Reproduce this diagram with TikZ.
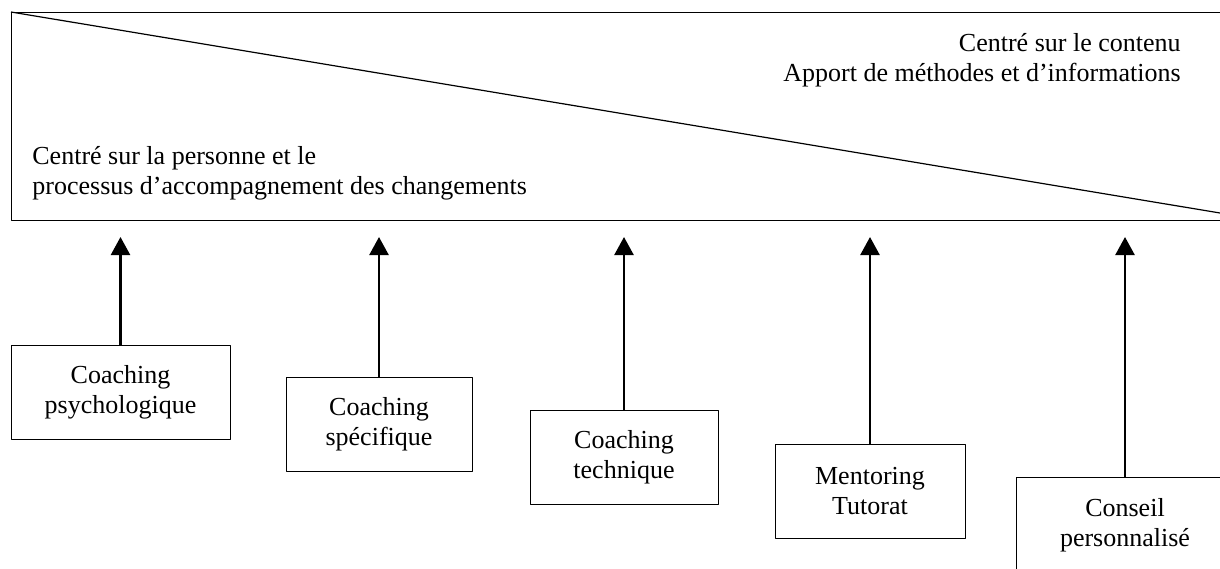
\documentclass[tikz,border=0pt]{standalone}
\usepackage{fontspec}
\setmainfont{Liberation Serif}
\usetikzlibrary{arrows.meta}
\tikzset{
  boite/.style={draw, line width=0.5pt, minimum width=#1, minimum height=47pt, align=center, inner sep=0pt},
  fleche/.style={line width=1.2pt, -{Triangle[length=9pt,width=9.5pt]}},
}
\begin{document}
\begin{tikzpicture}[x=0.5pt, y=-0.5pt, font=\fontsize{13}{15}\selectfont, line join=round]
\useasboundingbox (0,0) rectangle (1220,568);
\path
(11,12) coordinate (A)
(11,220) coordinate (B)
(1240,12) coordinate (C)
(1240,220) coordinate (D)
(1220,213) coordinate (E)
(0,237) coordinate (pointe)
;
\draw[line width=0.5pt] (C)--(A)--(B)--(D);
\draw[line width=0.6pt] (A)--(E);
\node[anchor=east, align=right, inner sep=0pt] (contenu) at (1181,60) {Centré sur le contenu\\Apport de méthodes et d’informations};
\node[anchor=west, align=left, inner sep=0pt] (personne) at (32,173) {Centré sur la personne et le\\processus d’accompagnement des changements};
% les cinq approches
\node[boite=109.5pt] (b1) at (120.5,392.5) {Coaching\\psychologique};
\node[boite=93pt] (b2) at (379,424) {Coaching\\spécifique};
\node[boite=94pt] (b3) at (624,457.5) {Coaching\\technique};
\node[boite=95pt] (b4) at (870,491.5) {Mentoring\\Tutorat};
\node[boite=108pt, draw=none] (b5) at (1125,525) {Conseil\\personnalisé};
\draw[line width=0.5pt] (b5.north east)--(b5.north west)--(b5.south west);
\foreach \b in {b1,b2,b3,b4,b5}
  \draw[fleche] (\b.north)--(\b.north |- pointe);
\end{tikzpicture}
\end{document}
